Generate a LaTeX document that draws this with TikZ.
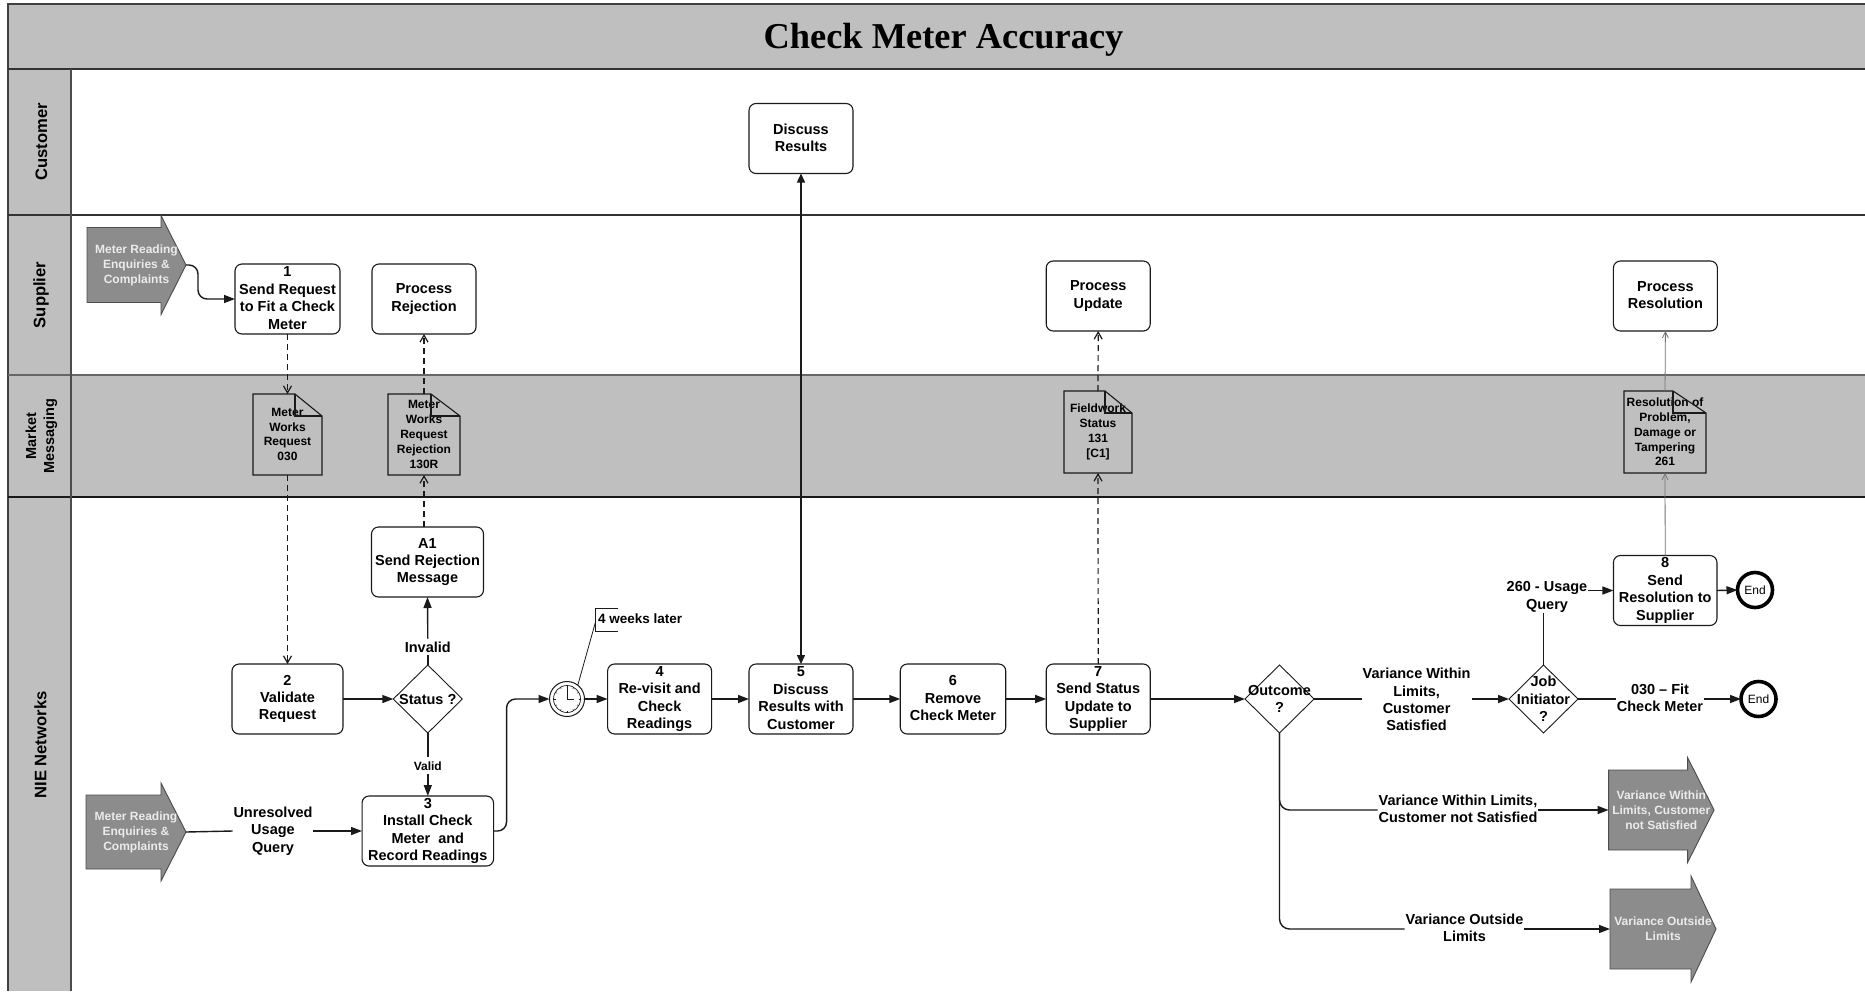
\documentclass[tikz,border=0pt]{standalone}
\usepackage{fontspec}
\setmainfont{Liberation Sans}
\newfontfamily\titlefont{Liberation Serif}
\usetikzlibrary{arrows.meta,shapes.geometric,backgrounds,calc}
\definecolor{lanegray}{HTML}{BFBFBF}
\definecolor{arrowgray}{HTML}{8C8C8C}
\definecolor{inkdark}{HTML}{1A1A1A}
\newcommand{\fsz}[2]{\fontsize{#1pt}{#2pt}\selectfont}
\newcommand{\topstrut}{\rule{0pt}{12.5pt}}
\newcommand{\botstrut}{\rule[-2.1pt]{0pt}{2.1pt}}
\tikzset{
  x=1pt,y=-1pt,
  every node/.style={inner sep=0pt,outer sep=0pt,text=black},
  proc/.style={draw=inkdark,line width=1.1pt,rounded corners=7pt,fill=white,align=center,
    font=\fsz{14.5}{17.4}\bfseries,minimum height=70pt,
    execute at begin node=\topstrut,execute at end node=\botstrut},
  doctext/.style={align=center,font=\fsz{12}{14.8}\bfseries,minimum height=81pt},
  inout/.style={align=center,font=\fsz{12}{15}\bfseries,text=white!92!black,minimum height=99pt},
  decide/.style={draw=inkdark,line width=.9pt,diamond,fill=white,minimum width=69pt,minimum height=68pt},
  dectext/.style={align=center,font=\fsz{14.5}{17.4}\bfseries},
  lab/.style={align=center,font=\fsz{14.5}{17.4}\bfseries,fill=white,inner xsep=1pt,inner ysep=1pt,
    execute at begin node=\topstrut,execute at end node=\botstrut},
  lanelab/.style={rotate=90,align=center,font=\fsz{16.6}{18}\bfseries},
  stopper/.style={circle,draw=black,line width=3.6pt,fill=white,minimum size=35pt,font=\fsz{12}{14}},
  flow/.style={line width=1.4pt,draw=inkdark,-{Triangle[length=11pt,width=8pt]}},
  plain/.style={line width=1.4pt,draw=inkdark},
  msg/.style={line width=1.2pt,draw=inkdark,dash pattern=on 6pt off 4pt,-{Straight Barb[length=7pt,width=8pt]}},
  thinmsg/.style={line width=.8pt,draw=black!55,-{Straight Barb[length=6pt,width=6pt]}},
  shapeline/.style={line width=1.1pt,draw=inkdark},
  fatarrow/.style={line width=.9pt,draw=black!70,fill=arrowgray},
}
% #1 node name, #2 half shaft height, #3 head length
\newcommand{\fatshape}[3]{%
  \draw[fatarrow] ([yshift=#2pt]#1.west) -- ([yshift=#2pt,xshift=-#3pt]#1.east)
    -- ([xshift=-#3pt]#1.north east) -- (#1.east) -- ([xshift=-#3pt]#1.south east)
    -- ([yshift=-#2pt,xshift=-#3pt]#1.east) -- ([yshift=-#2pt]#1.west) -- cycle;}
% #1 node name, #2 fold width
\newcommand{\docshape}[2]{%
  \draw[shapeline] (#1.north west) -- ([xshift=-#2pt]#1.north east) -- ([yshift=-22pt]#1.north east)
    -- (#1.south east) -- (#1.south west) -- cycle;
  \draw[shapeline] ([xshift=-#2pt]#1.north east) -- ([xshift=-#2pt,yshift=-22pt]#1.north east) -- ([yshift=-22pt]#1.north east);}
\begin{document}
\begin{tikzpicture}
\useasboundingbox (0,0) rectangle (1865,991);
% lanes
\begin{scope}[on background layer]
  \fill[white] (0,0) rectangle (1865,991);
  \fill[lanegray] (8,4) rectangle (1865,69);
  \fill[lanegray] (8,69) rectangle (71,991);
  \fill[lanegray] (71,375) rectangle (1865,497);
  \draw[line width=1.2pt,draw=black!75] (8,991) -- (8,4) -- (1865,4);
  \draw[line width=1.2pt,draw=black!80] (8,69) -- (1865,69);
  \draw[line width=1.2pt,draw=black!80] (8,215) -- (1865,215);
  \draw[line width=1.4pt,draw=black!60] (8,375) -- (1865,375);
  \draw[line width=1.2pt,draw=black!90] (8,497) -- (1865,497);
  \draw[line width=1.2pt,draw=black!70] (71,69) -- (71,991);
\end{scope}
\node[font=\titlefont\fsz{36.4}{40}\bfseries] (title) at (943.5,40) {Check Meter Accuracy};
\node[lanelab] (lcust) at (41.5,142) {Customer};
\node[lanelab] (lsupp) at (41,295) {Supplier};
\node[lanelab,font=\fsz{14.5}{18}\bfseries] (lmark) at (41.5,436) {Market\\Messaging};
\node[lanelab] (lnie) at (40.5,745) {NIE Networks};
% process boxes
\node[proc,minimum width=105pt] (n1) at (287.5,299) {1\\Send Request\\to Fit a Check\\Meter};
\node[proc,minimum width=104pt] (prej) at (424,299) {Process\\Rejection};
\node[proc,minimum width=104pt] (pupd) at (1098.2,296) {Process\\Update};
\node[proc,minimum width=104pt] (pres) at (1665.4,296) {Process\\Resolution};
\node[proc,minimum width=104pt] (disc) at (801,138.5) {Discuss\\Results};
\node[proc,minimum width=112pt] (a1box) at (427.5,562) {A1\\Send Rejection\\Message};
\node[proc,minimum width=111pt] (n2) at (287.5,699) {2\\Validate\\Request};
\node[proc,minimum width=131.5pt] (n3) at (427.8,831) {3\\Install Check\\Meter~ and\\Record Readings};
\node[proc,minimum width=104pt] (n4) at (659.6,699) {4\\Re-visit and\\Check\\Readings};
\node[proc,minimum width=104pt] (n5) at (801,699) {5\\Discuss\\Results with\\Customer};
\node[proc,minimum width=105.5pt] (n6) at (953,699) {6\\Remove\\Check Meter};
\node[proc,minimum width=104pt] (n7) at (1098.2,699) {7\\Send Status\\Update to\\Supplier};
\node[proc,minimum width=103.5pt] (n8) at (1665.2,590.5) {8\\Send\\Resolution to\\Supplier};
% decisions
\node[decide] (dstat) at (427.8,699) {};
\node[dectext] (tstat) at (427.8,699) {Status ?};
\node[decide] (dout) at (1279.5,699) {};
\node[dectext] (tout) at (1279.5,699) {Outcome\\?};
\node[decide] (djob) at (1543.5,699) {};
\node[dectext] (tjob) at (1543.5,699) {Job\\Initiator\\?};
% clock
\node[circle,draw=inkdark,line width=1pt,fill=white,minimum size=35pt] (clock) at (567,699) {};
\draw[line width=.7pt,draw=inkdark] (clock.center) circle[radius=13.5pt];
\draw[line width=.8pt,draw=inkdark] ($(clock.center)+(0,-11)$) -- (clock.center) -- ($(clock.center)+(7,0)$);
\foreach \a in {0,30,...,330}{\draw[line width=.5pt,draw=inkdark] ($(clock.center)+(\a:11.5pt)$) -- ($(clock.center)+(\a:13.5pt)$);}
% end events
\node[stopper] (end1) at (1755,590) {End};
\node[stopper] (end2) at (1758.5,699) {End};
% documents
\node[doctext,minimum width=69pt] (d1) at (287.5,434.5) {Meter\\Works\\Request\\030};
\node[doctext,minimum width=72pt] (d2) at (424,434.5) {Meter\\Works\\Request\\Rejection\\130R};
\node[doctext,minimum width=68pt,minimum height=82pt] (d3) at (1098,432) {Fieldwork\\Status\\131\\{[C1]}};
\node[doctext,minimum width=82pt,minimum height=82pt] (d4) at (1665,432) {Resolution of\\Problem,\\Damage or\\Tampering\\261};
\docshape{d1}{27}
\docshape{d2}{29}
\docshape{d3}{27}
\docshape{d4}{33}
% fat arrows
\node[inout,minimum width=99pt] (a1) at (136.5,265) {Meter Reading\\Enquiries \&\\Complaints};
\node[inout,minimum width=100pt,minimum height=98pt] (a2) at (136,832) {Meter Reading\\Enquiries \&\\Complaints};
\node[inout,minimum width=105.5pt,minimum height=105pt] (a3) at (1661.3,810) {Variance Within\\Limits, Customer\\not Satisfied};
\node[inout,minimum width=106pt,minimum height=106pt] (a4) at (1663,929) {Variance Outside\\Limits};
\begin{scope}[on background layer]
  \fatshape{a1}{37.5}{25}
  \fatshape{a2}{37}{25}
  \fatshape{a3}{40}{26.5}
  \fatshape{a4}{40}{25}
\end{scope}
% labels on connectors
\node[lab] (lunres) at (273,831) {Unresolved\\Usage\\Query};
\node[lab] (linv) at (427.8,647) {Invalid};
\node[lab,font=\fsz{12}{14}\bfseries] (lval) at (427.8,765.5) {Valid};
\node[lab] (lsat) at (1416.6,700.5) {Variance Within\\Limits,\\Customer\\Satisfied};
\node[lab] (lusage) at (1547,597) {260 - Usage\\Query};
\node[lab] (lfit) at (1660,699) {030 – Fit\\Check Meter};
\node[lab] (lnot) at (1458,810) {Variance Within Limits,\\Customer not Satisfied};
\node[lab] (lvout) at (1464.5,929) {Variance Outside\\Limits};
\node[anchor=west,font=\fsz{13.5}{16}\bfseries] (weeks) at (598,619) {4 weeks later};
% annotation
\coordinate (brtop) at (618,608);
\coordinate (brbot) at (618,631);
\coordinate (bra) at (595.5,622);
\draw[line width=.8pt,draw=inkdark] (brtop) -- (595.5,608) -- (595.5,631) -- (brbot);
\draw[line width=.8pt,draw=inkdark] (clock.52) -- (bra);
% connectors
\draw[flow,rounded corners=9pt] (a1.east) -- ++(12,0) |- (n1.west);
\draw[msg] (n1.south) -- (d1.north);
\draw[msg] (d1.south) -- (n2.north);
\draw[msg] (a1box.north -| d2.south) -- (d2.south);
\draw[msg] (d2.north) -- (prej.south);
\draw[msg] (n7.north) -- (d3.south);
\draw[msg] (d3.north) -- (pupd.south);
\draw[thinmsg] (n8.north) -- (d4.south);
\draw[thinmsg] (d4.north) -- (pres.south);
\draw[plain,{Triangle[length=9pt,width=8pt]}-{Triangle[length=9pt,width=8pt]}] (disc.south) -- (n5.north);
\draw[plain] (a2.east) -- (lunres.west);
\draw[flow] (lunres.east) -- (n3.west);
\draw[flow] (n2.east) -- (dstat.west);
\draw[plain] (dstat.north) -- (linv.south);
\draw[flow] (linv.north) -- (a1box.south);
\draw[plain] (dstat.south) -- (lval.north);
\draw[flow] (lval.south) -- (n3.north);
\draw[flow,rounded corners=9pt] (n3.east) -- ++(13,0) |- (clock.west);
\draw[flow] (clock.east) -- (n4.west);
\draw[flow] (n4.east) -- (n5.west);
\draw[flow] (n5.east) -- (n6.west);
\draw[flow] (n6.east) -- (n7.west);
\draw[flow] (n7.east) -- (dout.west);
\draw[plain] (dout.east) -- (dout.east -| lsat.west);
\draw[flow] (dout.east -| lsat.east) -- (djob.west);
\draw[plain] (djob.east) -- (lfit.west);
\draw[flow] (lfit.east) -- (end2.west);
\draw[plain] (djob.north) -- (djob.north |- lusage.south);
\draw[flow] (lusage.east |- n8.west) -- (n8.west);
\draw[flow] (n8.east) -- (end1.west);
\draw[plain,rounded corners=10pt] (dout.south) |- (lnot.west);
\draw[flow] (lnot.east) -- (a3.west);
\draw[plain,rounded corners=10pt] (dout.south) |- (lvout.west);
\draw[flow] (lvout.east) -- (a4.west);
\end{tikzpicture}
\end{document}
